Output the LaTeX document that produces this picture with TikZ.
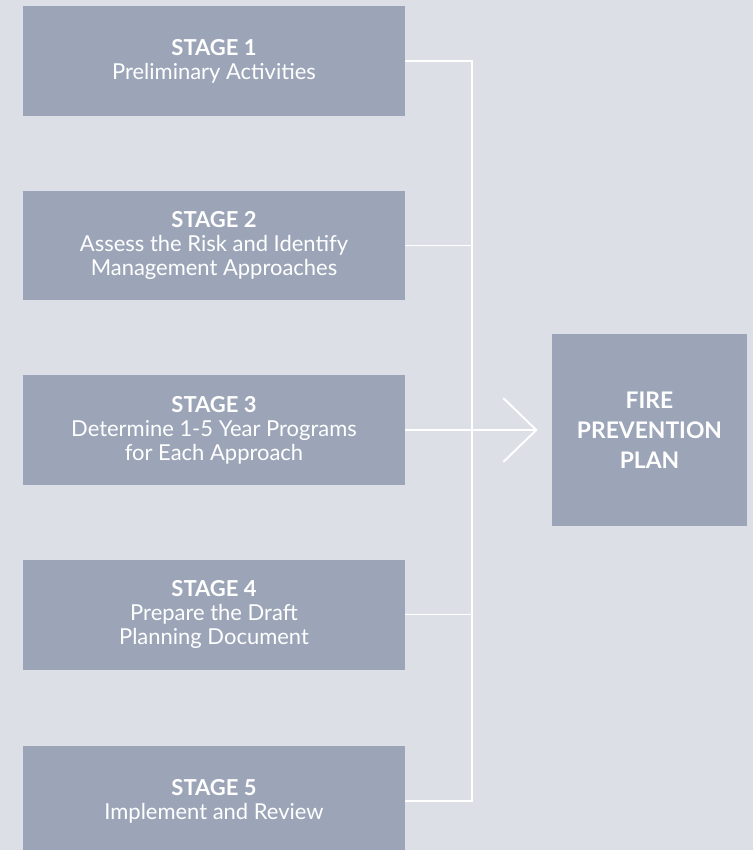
\documentclass[tikz,border=0pt]{standalone}
\usepackage{fontspec}
\setmainfont{Lato}
\usetikzlibrary{arrows.meta}
\definecolor{bgcol}{HTML}{DCDFE6}
\definecolor{boxcol}{HTML}{9CA5B8}
\begin{document}
\begin{tikzpicture}[x=0.02cm,y=-0.02cm,
	stagebox/.style={fill=boxcol, text=white, minimum width=7.64cm, minimum height=2.2cm,
		align=center, inner sep=0pt, font=\fontsize{12.5}{13.6}\selectfont},
	planbox/.style={stagebox, minimum width=3.9cm, minimum height=3.84cm,
		font=\fontsize{13}{17}\selectfont\bfseries},
	link/.style={draw=white, line width=1.1pt}]
		\fill[bgcol] (0,0) rectangle (753,850);
		\useasboundingbox (0,0) rectangle (753,850);
		\clip (0,0) rectangle (753,850);
		\node[stagebox] (s1) at (214,61) {\textbf{STAGE 1}\\Preliminary Activities};
		\node[stagebox] (s2) at (214,245.5) {\textbf{STAGE 2}\\Assess the Risk and Identify\\Management Approaches};
		\node[stagebox] (s3) at (214,430) {\textbf{STAGE 3}\\Determine 1-5 Year Programs\\for Each Approach};
		\node[stagebox] (s4) at (214,614.5) {\textbf{STAGE 4}\\Prepare the Draft\\Planning Document};
		\node[stagebox] (s5) at (214,801) {\textbf{STAGE 5}\\Implement and Review};
		\node[planbox] (plan) at (649.5,430) {FIRE\\PREVENTION\\PLAN};
		\coordinate (bus) at (472,0);
		\draw[link] (s1.east) -- (s1.east -| bus) -- (s5.east -| bus) -- (s5.east);
		\draw[link] (s2.east) -- (s2.east -| bus);
		\draw[link] (s4.east) -- (s4.east -| bus);
		\draw[link, -{Straight Barb[length=0.66cm, width=1.28cm]}, shorten >=0.28cm] (s3.east) -- (plan.west);
	\end{tikzpicture}
\end{document}
